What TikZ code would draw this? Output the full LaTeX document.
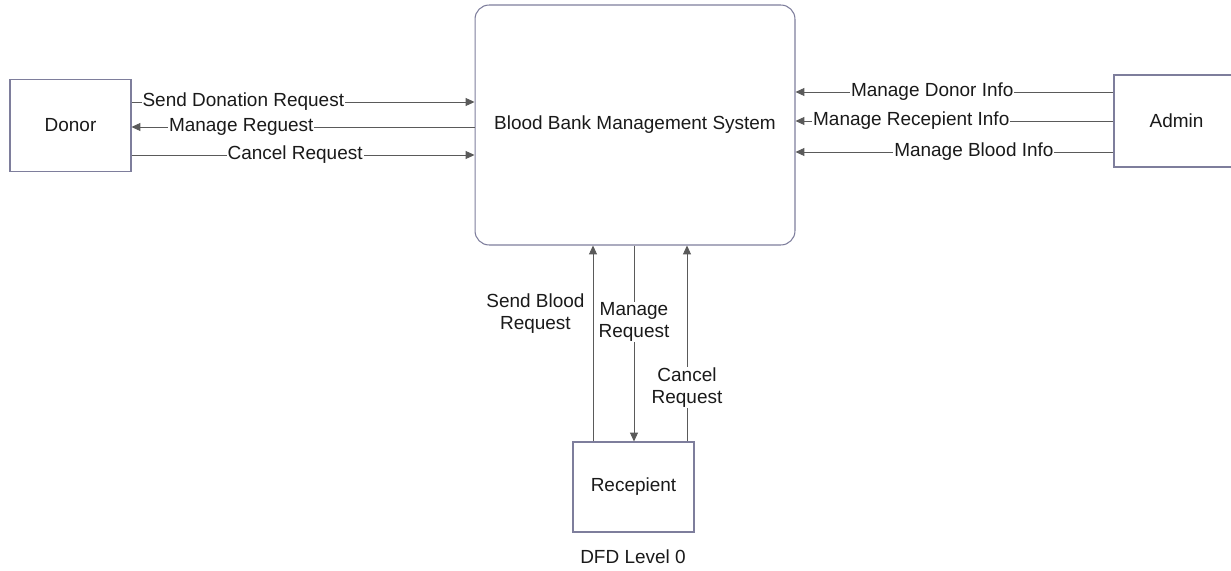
\documentclass[tikz,border=0pt]{standalone}
\usepackage{fontspec}
\setmainfont{Liberation Sans}
\usepackage{xcolor}
\usetikzlibrary{arrows.meta}
\usetikzlibrary{positioning}
\definecolor{boxline}{HTML}{7E7E9C}
\definecolor{flowline}{HTML}{5A5A5A}
\definecolor{txt}{HTML}{1A1A1A}

\begin{document}
\begin{tikzpicture}[x=0.02cm,y=-0.02cm]
\tikzset{entity/.style={rectangle,draw=boxline,line width=0.6pt,text=txt,minimum width=2.42cm,minimum height=1.84cm},
flow/.style={draw=flowline,line width=0.5pt,-{Triangle[length=5pt,width=4.5pt]}},
flowlabel/.style={fill=white,inner sep=0.5pt,text=txt}}
\useasboundingbox (0,0) rectangle (1231,571);
\fontsize{10.8}{12.5}\selectfont
\node[entity](donor) at (70.5,125.5){Donor};
\node[entity,rounded corners=8pt,minimum width=6.4cm,minimum height=4.8cm](bbms) at (635,125){Blood Bank Management System};
\node[entity,minimum width=2.5cm](admin) at (1176.5,121){Admin};
\node[entity,minimum height=1.8cm](recv) at (633.5,487){Recepient};
\node[text=txt](title) at (633,557){DFD Level 0};
% donor flows
\draw[flow](donor.east |- 0,102) -- node[flowlabel,pos=0.326]{Send Donation Request} (bbms.west |- 0,102);
\draw[flow](bbms.west |- 0,127) -- node[flowlabel,pos=0.68]{Manage Reguest} (donor.east |- 0,127);
\draw[flow](donor.east |- 0,155) -- node[flowlabel,pos=0.477]{Cancel Request} (bbms.west |- 0,155);
% admin flows
\draw[flow](admin.west |- 0,92) -- node[flowlabel,pos=0.57]{Manage Donor Info} (bbms.east |- 0,92);
\draw[flow](admin.west |- 0,121) -- node[flowlabel,pos=0.636]{Manage Recepient Info} (bbms.east |- 0,121);
\draw[flow](admin.west |- 0,152) -- node[flowlabel,pos=0.439]{Manage Blood Info} (bbms.east |- 0,152);
% recepient flows
\draw[flow](recv.north -| 593,0) -- node[text=txt,align=center,pos=0.655,left=1pt]{Send Blood\\Request} (bbms.south -| 593,0);
\draw[flow](bbms.south -| 634,0) -- node[flowlabel,align=center,pos=0.39]{Manage\\Request} (recv.north -| 634,0);
\draw[flow](recv.north -| 687,0) -- node[flowlabel,align=center,pos=0.274]{Cancel\\Request} (bbms.south -| 687,0);
\end{tikzpicture}
\end{document}
